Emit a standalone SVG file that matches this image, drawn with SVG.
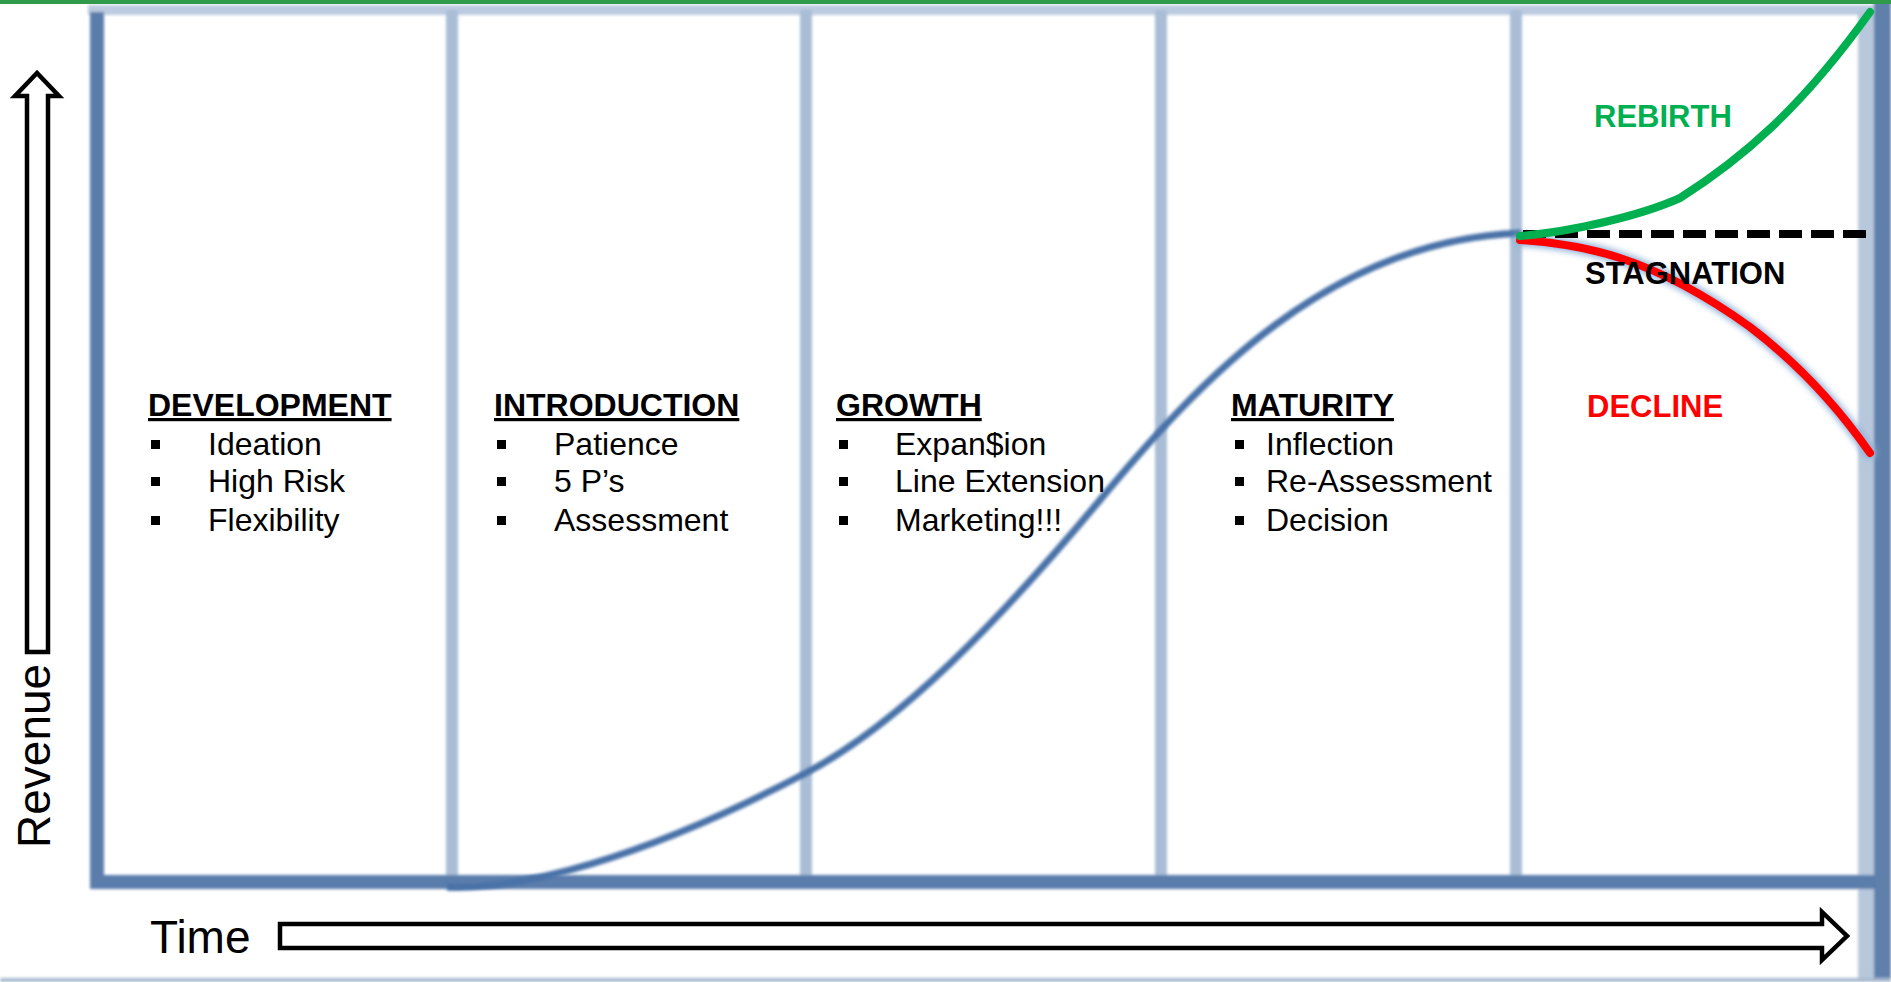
<svg xmlns="http://www.w3.org/2000/svg" width="1891" height="982" viewBox="0 0 1891 982">
  <defs>
    <filter id="soft" x="-10%" y="-10%" width="120%" height="120%">
      <feGaussianBlur stdDeviation="1.6"/>
    </filter>
    <filter id="glow" x="-20%" y="-20%" width="140%" height="140%">
      <feGaussianBlur stdDeviation="3"/>
    </filter>
  </defs>
  <style>
    .frame { stroke: #5a7dac; fill: none; }
    .grid { stroke: #a9bdd6; stroke-width: 12; }
    .head { font-family: "Liberation Sans", Arial, sans-serif; font-weight: bold; font-size: 32px; fill: #000; text-decoration: underline; }
    .item { font-family: "Liberation Sans", Arial, sans-serif; font-size: 32px; fill: #000; }
    .bul { fill: #000; }
    .lab { font-family: "Liberation Sans", Arial, sans-serif; font-weight: bold; font-size: 31px; }
    .axis { font-family: "Liberation Sans", Arial, sans-serif; font-size: 46px; fill: #000; }
    .arrow { fill: #fff; stroke: #000; stroke-width: 4.5; stroke-linejoin: miter; }
  </style>
  <rect width="1891" height="982" fill="#fff"/>

  <g id="chart-frame">
    <g filter="url(#soft)">
      <rect x="88" y="5" width="1790" height="10" fill="#bccbe0"/>
      <line class="grid" x1="452" y1="10" x2="452" y2="884"/>
      <line class="grid" x1="806" y1="10" x2="806" y2="884"/>
      <line class="grid" x1="1161" y1="10" x2="1161" y2="884"/>
      <line class="grid" x1="1516" y1="10" x2="1516" y2="884"/>
      <rect x="1858" y="10" width="16" height="972" fill="#b7c8dd"/>
      <rect x="1874" y="0" width="17" height="982" fill="#5e80ab"/>
      <path class="frame" stroke-width="14" d="M97 12 V882 H1876"/>
      <rect x="0" y="978" width="1891" height="4" fill="#a7b9d0"/>
    </g>
    <rect x="0" y="0" width="1891" height="4" fill="#2f9a4a"/>
  </g>

  <g id="connectors">
    <path id="lifecycle-curve" d="M447 887 C520 890 640 860 804 774 C900 724 1000 620 1100 500 C1200 380 1330 240 1521 233" fill="none" stroke="#4a72a8" stroke-width="7" filter="url(#soft)"/>
    <path d="M1520 240 C1580 244 1650 255 1750 327 C1800 365 1840 410 1870 453" fill="none" stroke="#8fb0d8" stroke-width="12" stroke-linecap="round" filter="url(#glow)"/>
    <path id="decline-curve" d="M1520 240 C1580 244 1650 255 1750 327 C1800 365 1840 410 1870 453" fill="none" stroke="#ff0000" stroke-width="8" stroke-linecap="round"/>
    <line id="stagnation-line" x1="1523" y1="234" x2="1866" y2="234" stroke="#000" stroke-width="8" stroke-dasharray="23 9"/>
    <path id="rebirth-curve" d="M1520 236 C1570 232 1640 216 1680 198 C1740 160 1800 110 1870 12" fill="none" stroke="#00b050" stroke-width="8" stroke-linecap="round"/>
  </g>

  <g id="revenue-axis">
    <path class="arrow" d="M27 652 V96 H15 L37 73 L59 96 H48 V652 Z"/>
    <text class="axis" transform="translate(50 848) rotate(-90)">Revenue</text>
  </g>
  <g id="time-axis">
    <text class="axis" x="150" y="953">Time</text>
    <path class="arrow" d="M280 924 H1822 V912 L1847 936 L1822 960 V948 H280 Z"/>
  </g>

  <g id="development">
    <text class="head" x="148" y="416">DEVELOPMENT</text>
    <rect class="bul" x="151" y="440" width="9" height="9"/>
    <rect class="bul" x="151" y="477" width="9" height="9"/>
    <rect class="bul" x="151" y="516" width="9" height="9"/>
    <text class="item" x="208" y="455">Ideation</text>
    <text class="item" x="208" y="492">High Risk</text>
    <text class="item" x="208" y="531">Flexibility</text>
  </g>
  <g id="introduction">
    <text class="head" x="494" y="416">INTRODUCTION</text>
    <rect class="bul" x="497" y="440" width="9" height="9"/>
    <rect class="bul" x="497" y="477" width="9" height="9"/>
    <rect class="bul" x="497" y="516" width="9" height="9"/>
    <text class="item" x="554" y="455">Patience</text>
    <text class="item" x="554" y="492">5 P’s</text>
    <text class="item" x="554" y="531">Assessment</text>
  </g>
  <g id="growth">
    <text class="head" x="836" y="416">GROWTH</text>
    <rect class="bul" x="839" y="440" width="9" height="9"/>
    <rect class="bul" x="839" y="477" width="9" height="9"/>
    <rect class="bul" x="839" y="516" width="9" height="9"/>
    <text class="item" x="895" y="455">Expan$ion</text>
    <text class="item" x="895" y="492">Line Extension</text>
    <text class="item" x="895" y="531">Marketing!!!</text>
  </g>
  <g id="maturity">
    <text class="head" x="1231" y="416">MATURITY</text>
    <rect class="bul" x="1235" y="440" width="9" height="9"/>
    <rect class="bul" x="1235" y="477" width="9" height="9"/>
    <rect class="bul" x="1235" y="516" width="9" height="9"/>
    <text class="item" x="1266" y="455">Inflection</text>
    <text class="item" x="1266" y="492">Re-Assessment</text>
    <text class="item" x="1266" y="531">Decision</text>
  </g>
  <g id="outcomes">
    <text class="lab" x="1594" y="127" fill="#00b050">REBIRTH</text>
    <text class="lab" x="1585" y="284" fill="#000">STAGNATION</text>
    <text class="lab" x="1587" y="417" fill="#ff0000">DECLINE</text>
  </g>
</svg>
